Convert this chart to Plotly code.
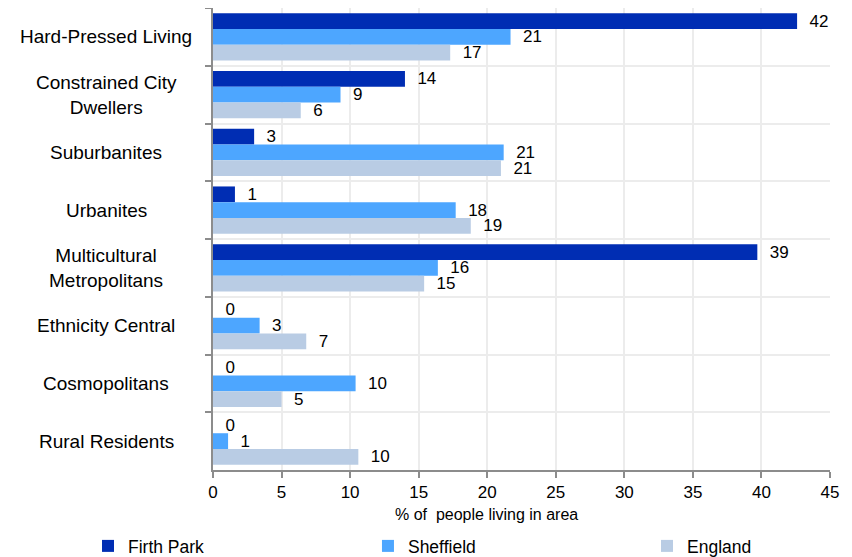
import plotly.graph_objects as go

categories = ["Hard-Pressed Living", "Constrained City Dwellers", "Suburbanites", "Urbanites",
              "Multicultural Metropolitans", "Ethnicity Central", "Cosmopolitans", "Rural Residents"]
category_labels = ["Hard-Pressed Living", "Constrained City<br>Dwellers", "Suburbanites", "Urbanites",
                   "Multicultural<br>Metropolitans", "Ethnicity Central", "Cosmopolitans", "Rural Residents"]

firth_park = [42.6, 14.0, 3.0, 1.6, 39.7, 0.0, 0.0, 0.0]
sheffield = [21.7, 9.3, 21.2, 17.7, 16.4, 3.4, 10.4, 1.1]
england = [17.3, 6.4, 21.0, 18.8, 15.4, 6.8, 5.0, 10.6]

firth_park_labels = ["42", "14", "3", "1", "39", "0", "0", "0"]
sheffield_labels = ["21", "9", "21", "18", "16", "3", "10", "1"]
england_labels = ["17", "6", "21", "19", "15", "7", "5", "10"]

x_ticks = [0, 5, 10, 15, 20, 25, 30, 35, 40, 45]
x_title = "% of  people living in area"

series = [
    ("Firth Park", firth_park, firth_park_labels, "#002db3", "legend"),
    ("Sheffield", sheffield, sheffield_labels, "#4da6ff", "legend2"),
    ("England", england, england_labels, "#b9cce4", "legend3"),
]

FONT = "Liberation Sans, Arial, sans-serif"
PAD = "\u00a0\u00a0"

fig = go.Figure()
for name, vals, labels, color, leg in series:
    fig.add_trace(go.Bar(
        y=categories, x=vals, name=name, orientation="h", legend=leg,
        marker=dict(color=color, line=dict(width=0)),
        text=[PAD + l for l in labels], textposition="outside", cliponaxis=False,
        constraintext="none",
        textfont=dict(size=17, color="#000000", family=FONT),
    ))

for cat, lab in zip(categories, category_labels):
    fig.add_annotation(
        x=-0.1734, xref="paper", y=cat, yref="y", text=lab, showarrow=False,
        xanchor="center", yanchor="middle", align="center",
        font=dict(size=19, color="#000000", family=FONT),
    )

fig.add_annotation(
    x=0.4425, xref="paper", y=-0.0974, yref="paper", text=x_title, showarrow=False,
    xanchor="center", yanchor="middle", font=dict(size=16, color="#000000", family=FONT),
)

leg_common = dict(
    orientation="h", xref="container", yref="container", xanchor="left",
    y=0.02, yanchor="middle", font=dict(size=17.5, family=FONT, color="#000000"),
    itemwidth=30, bgcolor="rgba(0,0,0,0)",
)

fig.update_layout(
    width=844, height=549,
    margin=dict(l=205, r=22, t=0, b=87, autoexpand=False),
    paper_bgcolor="white", plot_bgcolor="white",
    barmode="group", bargap=0.18, bargroupgap=0,
    font=dict(family=FONT, color="#000000"),
    showlegend=True,
    legend=dict(x=0.0948, **leg_common),
    legend2=dict(x=0.4265, **leg_common),
    legend3=dict(x=0.7571, **leg_common),
)

fig.update_xaxes(
    range=[0, 45], tickvals=x_ticks, ticktext=[str(t) for t in x_ticks],
    showgrid=True, gridcolor="#ececec", gridwidth=2,
    showline=True, linecolor="#8c8c8c", linewidth=2,
    ticks="outside", ticklen=6, tickcolor="#8c8c8c", tickwidth=1.5,
    tickfont=dict(size=17, family=FONT),
    zeroline=False, automargin=False,
)
fig.update_yaxes(
    autorange="reversed", type="category", tickson="boundaries",
    showticklabels=False,
    showgrid=True, gridcolor="#ececec", gridwidth=2,
    showline=True, linecolor="#8c8c8c", linewidth=2,
    ticks="outside", ticklen=6, tickcolor="#8c8c8c", tickwidth=1.5,
    automargin=False,
)

fig.write_html("out.html")
